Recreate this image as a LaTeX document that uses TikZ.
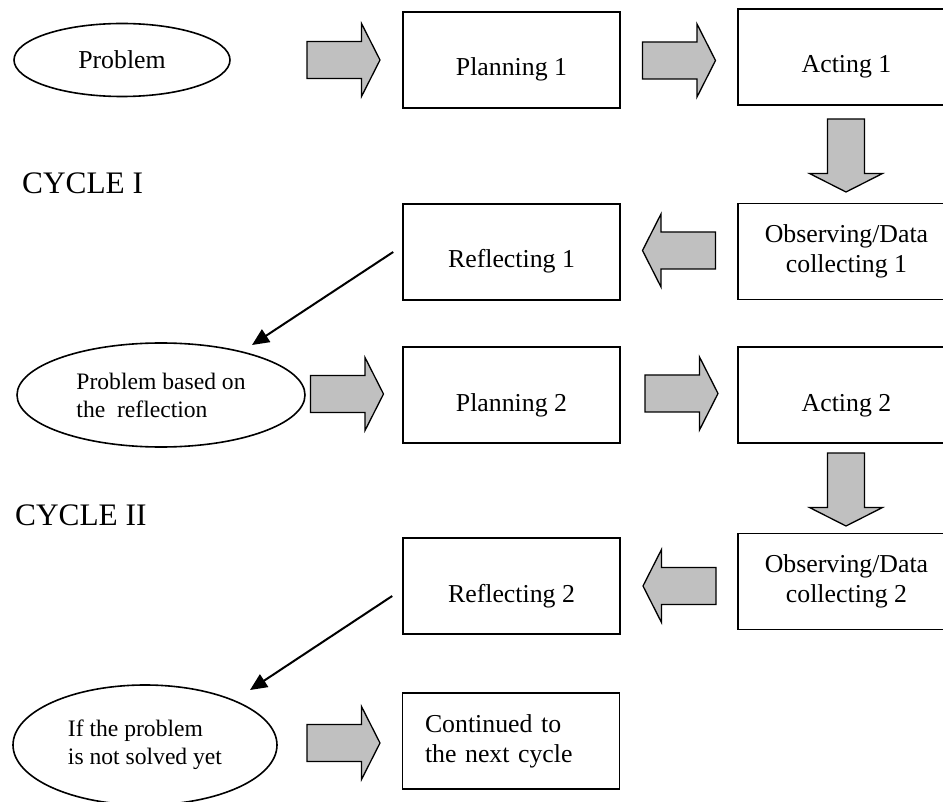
\documentclass[tikz,border=0pt]{standalone}
\usepackage{fontspec}
\setmainfont{Liberation Serif}
\usetikzlibrary{shapes.geometric,arrows.meta}
\definecolor{arrowgray}{RGB}{192,192,192}
\newcommand\boxfont{\fontsize{25.8}{30}\selectfont}
\newcommand\ovalfont{\fontsize{23.6}{28}\selectfont}
\newcommand\cyclefont{\fontsize{31.3}{36}\selectfont}
\begin{document}
\begin{tikzpicture}[x=1pt,y=-1pt,
 stagebox/.style={draw,line width=1.6pt,minimum width=217pt,minimum height=96pt,inner sep=0pt,font=\boxfont,align=center},
 onebox/.style={stagebox,text height=38pt,text depth=6pt},
 oval/.style={draw,ellipse,line width=1.6pt,inner sep=0pt,align=left},
 thinarrow/.style={line width=2pt,-{Triangle[length=17pt,width=15pt]}},
 barrow/.pic={\draw[fill=arrowgray,line width=1.3pt](-36.5,-18.5)--(18,-18.5)--(18,-36.5)--(36.5,0)--(18,36.5)--(18,18.5)--(-36.5,18.5)--cycle;}]
\useasboundingbox(0,0)rectangle(943,802);
\node[oval,minimum width=216pt,minimum height=73pt,font=\boxfont](prob)at(122,60){Problem};
\node[onebox](plan1)at(511.5,60){Planning 1};
\node[onebox](act1)at(846.5,57){Acting 1};
\node[stagebox](obs1)at(846.5,251.5){Observing/Data\\collecting 1};
\node[onebox](refl1)at(511.5,252){Reflecting 1};
\node[oval,minimum width=288pt,minimum height=104pt,font=\ovalfont](prob2)at(161,395){Problem based on\\the\ \ reflection};
\node[onebox](plan2)at(511.5,395){Planning 2};
\node[onebox](act2)at(846.5,395){Acting 2};
\node[stagebox](obs2)at(846.5,581.5){Observing/Data\\collecting 2};
\node[onebox](refl2)at(511.5,586){Reflecting 2};
\node[oval,minimum width=264pt,minimum height=120pt,font=\ovalfont](notsolved)at(145,745){If the problem\\is not solved yet};
\node[stagebox,align=left,text width=172pt,inner xsep=22pt](next)at(511,741){Continued to\\the next cycle};
\node[anchor=base west,inner sep=0pt,font=\cyclefont](cyc1)at(22,194){CYCLE I};
\node[anchor=base west,inner sep=0pt,font=\cyclefont](cyc2)at(15,525){CYCLE II};
\foreach \px/\py/\ang in {343.5/60/0,679/60.5/0,846/155.5/-90,679/250.5/180,347/394/0,681.5/393.5/0,846/489.5/-90,679.5/586/180,343.5/743/0}{\pic[rotate=\ang]at(\px,\py){barrow};}
\coordinate(tip1)at(252,345);
\coordinate(tip2)at(250,690);
\draw[thinarrow]([xshift=-9pt]refl1.west)--(tip1);
\draw[thinarrow]([xshift=-10pt,yshift=-10pt]refl2.west)--(tip2);
\end{tikzpicture}
\end{document}
